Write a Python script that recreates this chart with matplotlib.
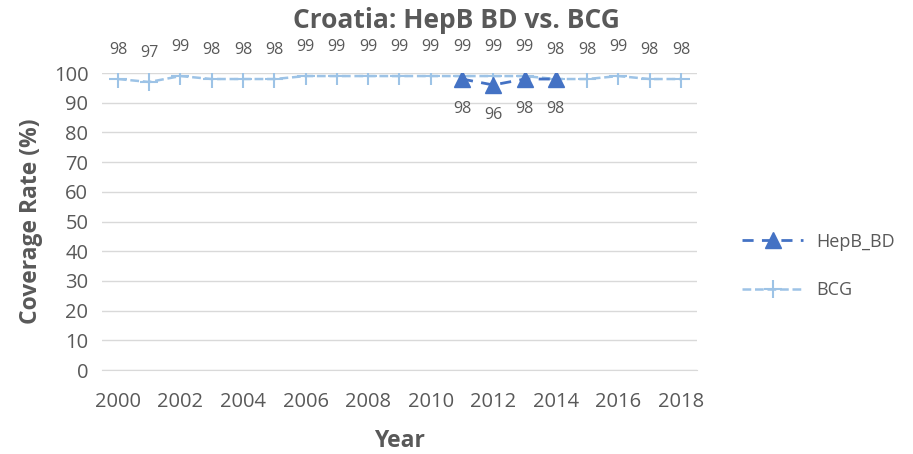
import matplotlib.pyplot as plt
import numpy as np

years = list(range(2000, 2019))
bcg = [98, 97, 99, 98, 98, 98, 99, 99, 99, 99, 99, 99, 99, 99, 98, 98, 99, 98, 98]
hepb_years = [2011, 2012, 2013, 2014]
hepb = [98, 96, 98, 98]

TEXT = "#595959"
HEPB_C = "#4472C4"
BCG_C = "#9DC3E6"

plt.rcParams["font.family"] = ["Open Sans", "DejaVu Sans"]

fig = plt.figure(figsize=(9.13, 4.54), dpi=100)
ax = fig.add_axes([0.112, 0.185, 0.651, 0.654])

x_all = np.arange(len(years))
x_hepb = np.array([years.index(y) for y in hepb_years])

hb, = ax.plot(x_hepb, hepb, color=HEPB_C, lw=2, ls=(0, (4, 3)), marker="^",
              ms=12, label="HepB_BD", zorder=4)
bc, = ax.plot(x_all, bcg, color=BCG_C, lw=1.8, ls=(0, (3.5, 1.5)), marker="+",
              ms=13, mew=1.5, label="BCG", zorder=3)

for xi, v in zip(x_all, bcg):
    ax.annotate(str(v), (xi, v), xytext=(0, 15), textcoords="offset points",
                ha="center", va="bottom", color=TEXT, fontsize=11.5)
for xi, v in zip(x_hepb, hepb):
    ax.annotate(str(v), (xi, v), xytext=(0, -16), textcoords="offset points",
                ha="center", va="top", color=TEXT, fontsize=11.5)

ax.set_xlim(-0.5, len(years) - 0.5)
ax.set_ylim(0, 100)
ax.set_yticks(range(0, 101, 10))
ax.set_xticks(x_all[::2])
ax.set_xticklabels([str(y) for y in years[::2]])
ax.grid(axis="y", color="#D9D9D9", lw=1)
ax.set_axisbelow(True)
for s in ["top", "right", "left"]:
    ax.spines[s].set_visible(False)
ax.spines["bottom"].set_color("#D9D9D9")
ax.tick_params(length=0, labelsize=14.5, colors=TEXT)
ax.tick_params(axis="x", pad=16)
ax.tick_params(axis="y", pad=10)

ax.set_xlabel("Year", fontsize=16.5, fontweight="bold", color=TEXT, labelpad=12)
ax.set_ylabel("Coverage Rate (%)", fontsize=16.5, fontweight="bold", color=TEXT, labelpad=8)
fig.text(0.5, 0.955, "Croatia: HepB BD vs. BCG", ha="center", va="center",
         fontsize=19, fontweight="bold", color=TEXT)

leg = fig.legend(handles=[hb, bc], loc="center left", bbox_to_anchor=(0.795, 0.414),
                 frameon=False, fontsize=13, labelspacing=1.7, handlelength=3.4,
                 handletextpad=0.7, labelcolor=TEXT)

fig.savefig("out.png", dpi=100)
